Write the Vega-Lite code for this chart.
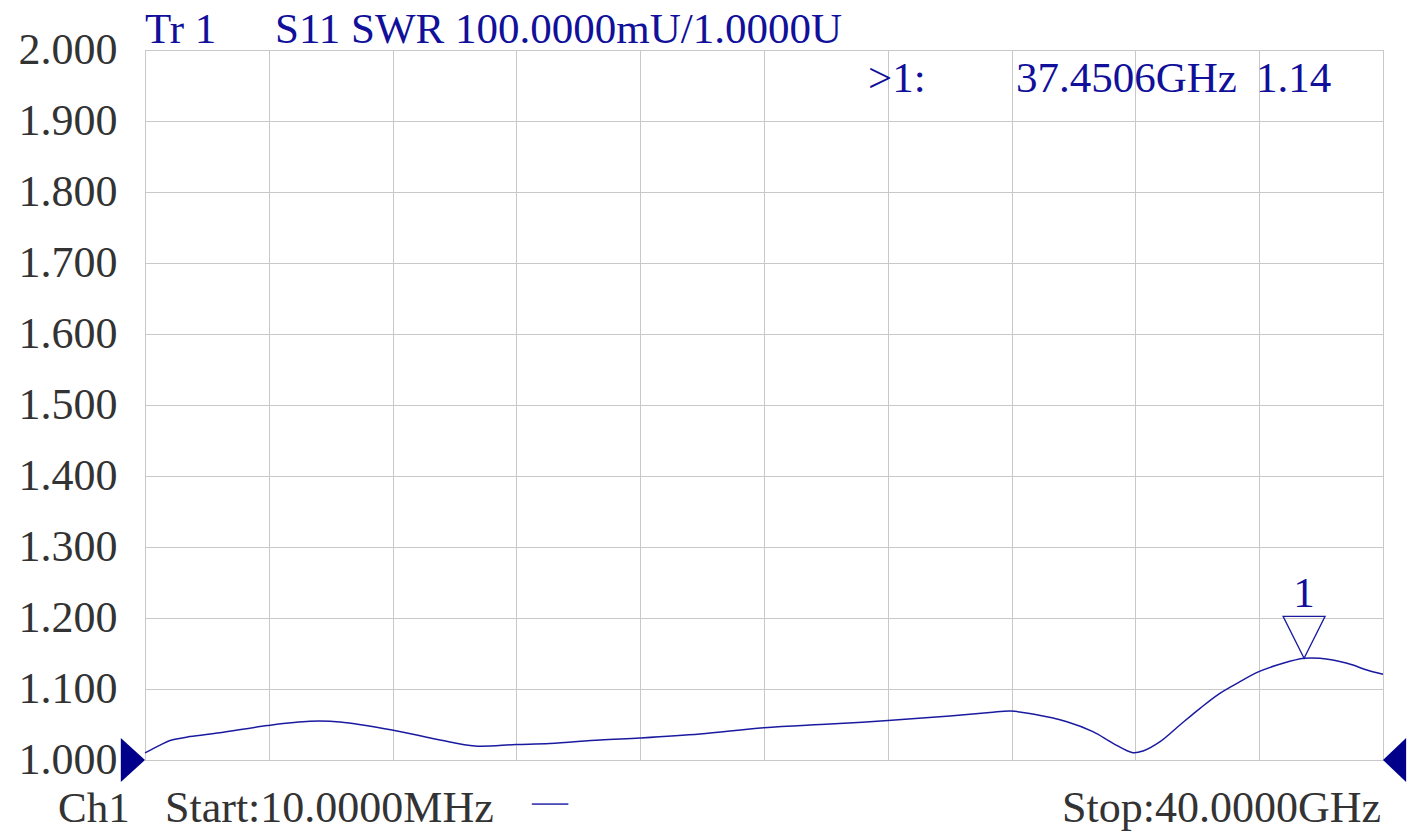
{
  "$schema": "https://vega.github.io/schema/vega-lite/v6.json",
  "width": 1238,
  "height": 710,
  "autosize": {"type": "none"},
  "padding": {"left": 145, "top": 50, "right": 38, "bottom": 73},
  "background": "white",
  "config": {
    "view": {"stroke": "#aaaaaa", "strokeWidth": 1},
    "font": "Liberation Serif"
  },
  "layer": [
    {
      "data": {"values": [
        {"f": 0.01, "swr": 1.010},
        {"f": 0.5, "swr": 1.021},
        {"f": 0.82, "swr": 1.0275},
        {"f": 1.46, "swr": 1.033},
        {"f": 2.43, "swr": 1.0385},
        {"f": 3.98, "swr": 1.0486},
        {"f": 5.34, "swr": 1.0545},
        {"f": 6.31, "swr": 1.0535},
        {"f": 7.99, "swr": 1.0423},
        {"f": 9.54, "swr": 1.0282},
        {"f": 10.67, "swr": 1.0197},
        {"f": 11.99, "swr": 1.0218},
        {"f": 13.09, "swr": 1.0232},
        {"f": 14.71, "swr": 1.0282},
        {"f": 16.0, "swr": 1.031},
        {"f": 17.94, "swr": 1.0366},
        {"f": 20.0, "swr": 1.0455},
        {"f": 22.14, "swr": 1.0507},
        {"f": 24.01, "swr": 1.0556},
        {"f": 26.01, "swr": 1.062},
        {"f": 27.3, "swr": 1.0669},
        {"f": 27.98, "swr": 1.069},
        {"f": 28.69, "swr": 1.0648},
        {"f": 29.79, "swr": 1.0539},
        {"f": 30.63, "swr": 1.0399},
        {"f": 31.28, "swr": 1.0235},
        {"f": 31.92, "swr": 1.0103},
        {"f": 32.25, "swr": 1.0127},
        {"f": 32.8, "swr": 1.0258},
        {"f": 33.44, "swr": 1.0493},
        {"f": 34.09, "swr": 1.0728},
        {"f": 34.73, "swr": 1.0939},
        {"f": 35.38, "swr": 1.1103},
        {"f": 35.99, "swr": 1.1244},
        {"f": 36.77, "swr": 1.1362},
        {"f": 37.45, "swr": 1.1432},
        {"f": 37.96, "swr": 1.1432},
        {"f": 38.84, "swr": 1.1362},
        {"f": 39.48, "swr": 1.1268},
        {"f": 40.0, "swr": 1.1207}
      ]},
      "mark": {"type": "line", "color": "#1a1aa0", "strokeWidth": 1.5, "interpolate": "catmull-rom"},
      "encoding": {
        "x": {
          "field": "f", "type": "quantitative",
          "scale": {"domain": [0.01, 40], "nice": false, "zero": false},
          "axis": {
            "values": [0.01, 4.009, 8.008, 12.007, 16.006, 20.005, 24.004, 28.003, 32.002, 36.001, 40.0],
            "labels": false, "ticks": false, "domain": false, "title": null,
            "grid": true, "gridColor": "#c8c8c8", "gridWidth": 1
          }
        },
        "y": {
          "field": "swr", "type": "quantitative",
          "scale": {"domain": [1, 2], "nice": false, "zero": false},
          "axis": {
            "values": [1, 1.1, 1.2, 1.3, 1.4, 1.5, 1.6, 1.7, 1.8, 1.9, 2.0],
            "labelExpr": "format(datum.value, '.3f')",
            "labelFont": "Liberation Serif", "labelFontSize": 44, "labelColor": "#333333",
            "labelPadding": 28, "labelOverlap": false, "labelFlush": false, "labelBound": false,
            "ticks": false, "domain": false, "title": null,
            "grid": true, "gridColor": "#c8c8c8", "gridWidth": 1
          }
        }
      }
    },
    {
      "data": {"values": [{"f": 37.4506, "swr": 1.1432, "label": "1"}]},
      "mark": {"type": "point", "shape": "M-1,-2L1,-2L0,0Z", "size": 1764, "filled": false, "stroke": "#1a1aa0", "strokeWidth": 1.3, "opacity": 1},
      "encoding": {
        "x": {"field": "f", "type": "quantitative"},
        "y": {"field": "swr", "type": "quantitative"}
      }
    },
    {
      "data": {"values": [{"f": 37.4506, "swr": 1.1432, "label": "1"}]},
      "mark": {"type": "text", "align": "center", "baseline": "alphabetic", "dy": -51, "fontSize": 43, "font": "Liberation Serif", "color": "#10109a"},
      "encoding": {
        "x": {"field": "f", "type": "quantitative"},
        "y": {"field": "swr", "type": "quantitative"},
        "text": {"field": "label"}
      }
    },
    {
      "data": {"values": [{}]},
      "mark": {"type": "point", "shape": "M-1.1,-1L0,0L-1.1,1Z", "size": 1936, "filled": true, "color": "#00008b", "opacity": 1},
      "encoding": {"x": {"datum": 0.01, "type": "quantitative"}, "y": {"datum": 1, "type": "quantitative"}}
    },
    {
      "data": {"values": [{}]},
      "mark": {"type": "point", "shape": "M1.05,-1L0,0L1.05,1Z", "size": 1936, "filled": true, "color": "#00008b", "opacity": 1},
      "encoding": {"x": {"datum": 40, "type": "quantitative"}, "y": {"datum": 1, "type": "quantitative"}}
    },
    {
      "data": {"values": [{}]},
      "mark": {"type": "text", "text": "Tr 1", "align": "left", "baseline": "alphabetic", "dy": -7, "fontSize": 43, "font": "Liberation Serif", "color": "#10109a"},
      "encoding": {"x": {"datum": 0.01, "type": "quantitative"}, "y": {"datum": 2, "type": "quantitative"}}
    },
    {
      "data": {"values": [{}]},
      "mark": {"type": "text", "text": "S11 SWR 100.0000mU/1.0000U", "align": "left", "baseline": "alphabetic", "dx": 130, "dy": -7, "fontSize": 43, "font": "Liberation Serif", "color": "#10109a"},
      "encoding": {"x": {"datum": 0.01, "type": "quantitative"}, "y": {"datum": 2, "type": "quantitative"}}
    },
    {
      "data": {"values": [{}]},
      "mark": {"type": "text", "text": ">1:", "align": "left", "baseline": "alphabetic", "dx": -515, "dy": 42, "fontSize": 43, "font": "Liberation Serif", "color": "#10109a"},
      "encoding": {"x": {"datum": 40, "type": "quantitative"}, "y": {"datum": 2, "type": "quantitative"}}
    },
    {
      "data": {"values": [{}]},
      "mark": {"type": "text", "text": "37.4506GHz", "align": "left", "baseline": "alphabetic", "dx": -367, "dy": 42, "fontSize": 43, "font": "Liberation Serif", "color": "#10109a"},
      "encoding": {"x": {"datum": 40, "type": "quantitative"}, "y": {"datum": 2, "type": "quantitative"}}
    },
    {
      "data": {"values": [{}]},
      "mark": {"type": "text", "text": "1.14", "align": "left", "baseline": "alphabetic", "dx": -127, "dy": 42, "fontSize": 43, "font": "Liberation Serif", "color": "#10109a"},
      "encoding": {"x": {"datum": 40, "type": "quantitative"}, "y": {"datum": 2, "type": "quantitative"}}
    },
    {
      "data": {"values": [{}]},
      "mark": {"type": "text", "text": "Ch1", "align": "left", "baseline": "alphabetic", "dx": -87, "dy": 62, "fontSize": 43, "font": "Liberation Serif", "color": "#333333"},
      "encoding": {"x": {"datum": 0.01, "type": "quantitative"}, "y": {"datum": 1, "type": "quantitative"}}
    },
    {
      "data": {"values": [{}]},
      "mark": {"type": "text", "text": "Start:10.0000MHz", "align": "left", "baseline": "alphabetic", "dx": 20, "dy": 62, "fontSize": 44, "font": "Liberation Serif", "color": "#333333"},
      "encoding": {"x": {"datum": 0.01, "type": "quantitative"}, "y": {"datum": 1, "type": "quantitative"}}
    },
    {
      "data": {"values": [{}]},
      "mark": {"type": "text", "text": "—", "align": "left", "baseline": "middle", "dx": 387, "dy": 42, "fontSize": 36, "font": "Liberation Serif", "color": "#4a4ab8"},
      "encoding": {"x": {"datum": 0.01, "type": "quantitative"}, "y": {"datum": 1, "type": "quantitative"}}
    },
    {
      "data": {"values": [{}]},
      "mark": {"type": "text", "text": "Stop:40.0000GHz", "align": "right", "baseline": "alphabetic", "dx": -2, "dy": 62, "fontSize": 44, "font": "Liberation Serif", "color": "#333333"},
      "encoding": {"x": {"datum": 40, "type": "quantitative"}, "y": {"datum": 1, "type": "quantitative"}}
    }
  ]
}
